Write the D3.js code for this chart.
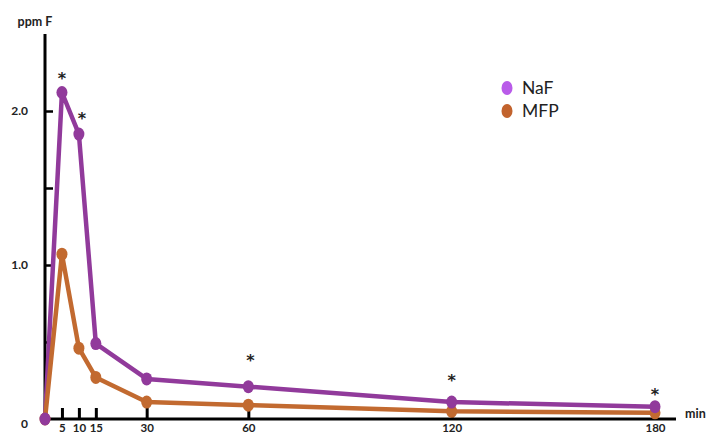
<!DOCTYPE html>
<html>
<head>
<meta charset="utf-8">
<script src="https://cdn.jsdelivr.net/npm/d3@7"></script>
<style>
  html, body { margin: 0; padding: 0; background: #fff; }
  svg { display: block; }
  text { font-family: Lato, "Open Sans", sans-serif; }
</style>
</head>
<body>
<svg id="chart" width="709" height="437"></svg>
<script>
// Plasma fluoride (ppm F) after NaF vs MFP dentifrice, by time in minutes
const times = [0, 5, 10, 15, 30, 60, 120, 180];
const nafValues = [0.0, 2.12, 1.85, 0.49, 0.26, 0.21, 0.11, 0.08];
const mfpValues = [0.0, 1.07, 0.46, 0.27, 0.11, 0.09, 0.05, 0.04];
const xTickValues = [5, 10, 15, 30, 60, 120, 180];
const yTickValues = [0.5, 1.0, 1.5, 2.0];
const yTickLabels = ["", "1.0", "", "2.0"];
// times flagged as significantly different
const significantTimes = [5, 10, 60, 120, 180];

const series = [
  { name: "NaF", values: nafValues, line: "#913a9b", legend: "#b95be9" },
  { name: "MFP", values: mfpValues, line: "#c26a30", legend: "#c2632d" }
];

const svg = d3.select("#chart");
const x = d3.scaleLinear().domain([0, 180]).range([45, 655]);
const y = d3.scaleLinear().domain([0, 2.5]).range([419, 34]);

// x axis: ticks point up, labels underneath
const xAxis = d3.axisBottom(x)
  .tickValues(xTickValues)
  .tickSizeInner(-11)
  .tickSizeOuter(0)
  .tickPadding(5)
  .tickFormat(d3.format("d"));
const gx = svg.append("g").attr("transform", `translate(0,${y(0)})`).call(xAxis);
gx.select(".domain").remove();
gx.append("line").attr("x1", x(0) - 1).attr("x2", 676).attr("y1", 0).attr("y2", 0)
  .attr("stroke", "#000").attr("stroke-width", 3);
gx.selectAll(".tick line").attr("stroke", "#000").attr("stroke-width", 3);
gx.selectAll(".tick text").attr("fill", "#222").attr("font-size", 11.5).attr("font-weight", 700);

// y axis: ticks point right
const yAxis = d3.axisLeft(y)
  .tickValues(yTickValues)
  .tickSizeInner(-8)
  .tickSizeOuter(0)
  .tickPadding(17)
  .tickFormat((d, i) => yTickLabels[i]);
const gy = svg.append("g").attr("transform", `translate(${x(0)},0)`).call(yAxis);
gy.select(".domain").remove();
gy.append("line").attr("x1", 0).attr("x2", 0).attr("y1", y(2.5)).attr("y2", y(0) + 1)
  .attr("stroke", "#000").attr("stroke-width", 3);
gy.selectAll(".tick line").attr("stroke", "#000").attr("stroke-width", 2.5);
gy.selectAll(".tick text").attr("fill", "#222").attr("font-size", 12).attr("font-weight", 700);

svg.append("text").attr("x", 28).attr("y", y(0) + 9).attr("text-anchor", "end")
  .attr("font-size", 12).attr("font-weight", 700).attr("fill", "#222").text("0");
svg.append("text").attr("x", 35).attr("y", 26).attr("text-anchor", "middle")
  .attr("font-size", 12.5).attr("font-weight", 700).attr("fill", "#222").text("ppm F");
svg.append("text").attr("x", 685).attr("y", 418)
  .attr("font-size", 12.5).attr("font-weight", 700).attr("fill", "#222").text("min");

// series lines
const line = d3.line().x((d, i) => x(times[i])).y(d => y(d));
series.forEach(s => {
  svg.append("path").datum(s.values)
    .attr("d", line).attr("fill", "none")
    .attr("stroke", s.line).attr("stroke-width", 4.5).attr("stroke-linejoin", "round");
});
// markers (drawn in reverse so NaF sits on top)
series.slice().reverse().forEach(s => {
  svg.append("g").selectAll("ellipse").data(s.values).join("ellipse")
    .attr("cx", (d, i) => x(times[i])).attr("cy", d => y(d))
    .attr("rx", 5.5).attr("ry", 6.5).attr("fill", s.line);
});

// significance markers above NaF points (gap in px above each point)
const starGap = { 5: 18, 10: 19, 60: 30, 120: 25, 180: 16 };
const starShift = { 5: 0, 10: 3, 60: 2, 120: 0, 180: 0 };
svg.append("g").selectAll("text").data(significantTimes).join("text")
  .attr("x", t => x(t) + starShift[t])
  .attr("y", t => y(nafValues[times.indexOf(t)]) - starGap[t] + 9)
  .attr("text-anchor", "middle")
  .style("font-family", "'DejaVu Sans', sans-serif")
  .attr("font-size", 16).attr("font-weight", 700)
  .attr("fill", "#222").text("*");

// legend
const legend = svg.append("g");
series.forEach((s, i) => {
  const ly = 88 + i * 23;
  legend.append("ellipse").attr("cx", 507).attr("cy", ly).attr("rx", 5.5).attr("ry", 7).attr("fill", s.legend);
  legend.append("text").attr("x", 522).attr("y", ly + 6).attr("font-size", 17.5).attr("fill", "#222").text(s.name);
});
</script>
</body>
</html>
